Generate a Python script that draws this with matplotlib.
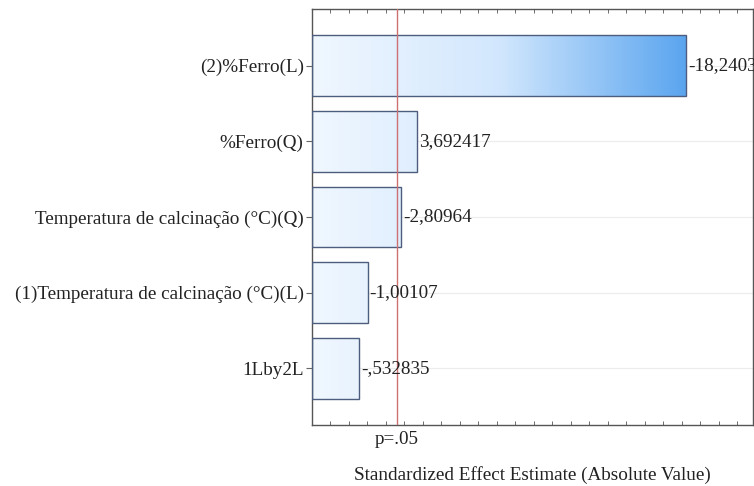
import numpy as np
import matplotlib
matplotlib.use("Agg")
import matplotlib.pyplot as plt
from matplotlib.colors import LinearSegmentedColormap
from matplotlib.ticker import MultipleLocator

# data (Pareto chart of standardized effects)
effects = ["(2)%Ferro(L)", "%Ferro(Q)", "Temperatura de calcinação (°C)(Q)",
           "(1)Temperatura de calcinação (°C)(L)", "1Lby2L"]
values = [-18.2403, 3.692417, -2.80964, -1.00107, -0.532835]
value_labels = ["-18,2403", "3,692417", "-2,80964", "-1,00107", "-,532835"]
p_crit = 2.5706   # t critical, p=.05

plt.rcParams['font.family'] = ['Liberation Serif', 'DejaVu Serif']
FS = 13.8

fig = plt.figure(figsize=(7.54, 4.86), dpi=100)
ax = fig.add_axes([0.4138, 0.1255, 0.585, 0.856])

xmin, xmax = -2.0, 21.85
ypos = np.arange(len(effects))
absvals = np.abs(values)

# faint grid at each effect
for y in ypos:
    ax.axhline(y, color="#ececec", lw=0.8, zorder=0)

bars = ax.barh(ypos, absvals - xmin, left=xmin, height=0.8,
               facecolor="none", edgecolor="#4d5d7d", linewidth=1.0, zorder=3)

# gradient fill clipped to each bar
cmap = LinearSegmentedColormap.from_list("blu", ["#f0f7ff", "#d2e7fd", "#5aa5ef"])
grad = np.linspace(0, 1, 256).reshape(1, -1)
for b in bars:
    im = ax.imshow(grad, cmap=cmap, aspect="auto",
                   extent=[xmin, max(absvals), len(effects), -1],
                   zorder=2, interpolation="bicubic")
    im.set_clip_path(b)
ax.set_xlim(xmin, xmax)
ax.set_ylim(len(effects) - 0.25, -0.75)

# value labels (the largest one runs off the right edge, as in the original)
for y, v, lab in zip(ypos, absvals, value_labels):
    ax.annotate(lab, (v, y), xytext=(1.5, 0), textcoords="offset points",
                va="center", ha="left", fontsize=FS, color="#222222",
                annotation_clip=False, zorder=5)

ax.axvline(p_crit, color="#cc7070", lw=1.0, zorder=4)

ax.set_yticks(ypos, effects, fontsize=FS, color="#222222")
ax.tick_params(axis="y", direction="out", length=4, color="#666666", pad=2)

ax.set_xticks([p_crit], ["p=.05"], fontsize=FS, color="#222222")
ax.tick_params(axis="x", which="major", length=0, pad=4)
ax.xaxis.set_minor_locator(MultipleLocator(1))
ax.tick_params(axis="x", which="minor", direction="in", length=3,
               top=True, bottom=True, color="#555555")

for s in ax.spines.values():
    s.set_color("#555555")
    s.set_linewidth(1.0)

ax.set_xlabel("Standardized Effect Estimate (Absolute Value)", fontsize=FS,
              color="#222222", labelpad=13)

fig.savefig("out.png", dpi=100)
